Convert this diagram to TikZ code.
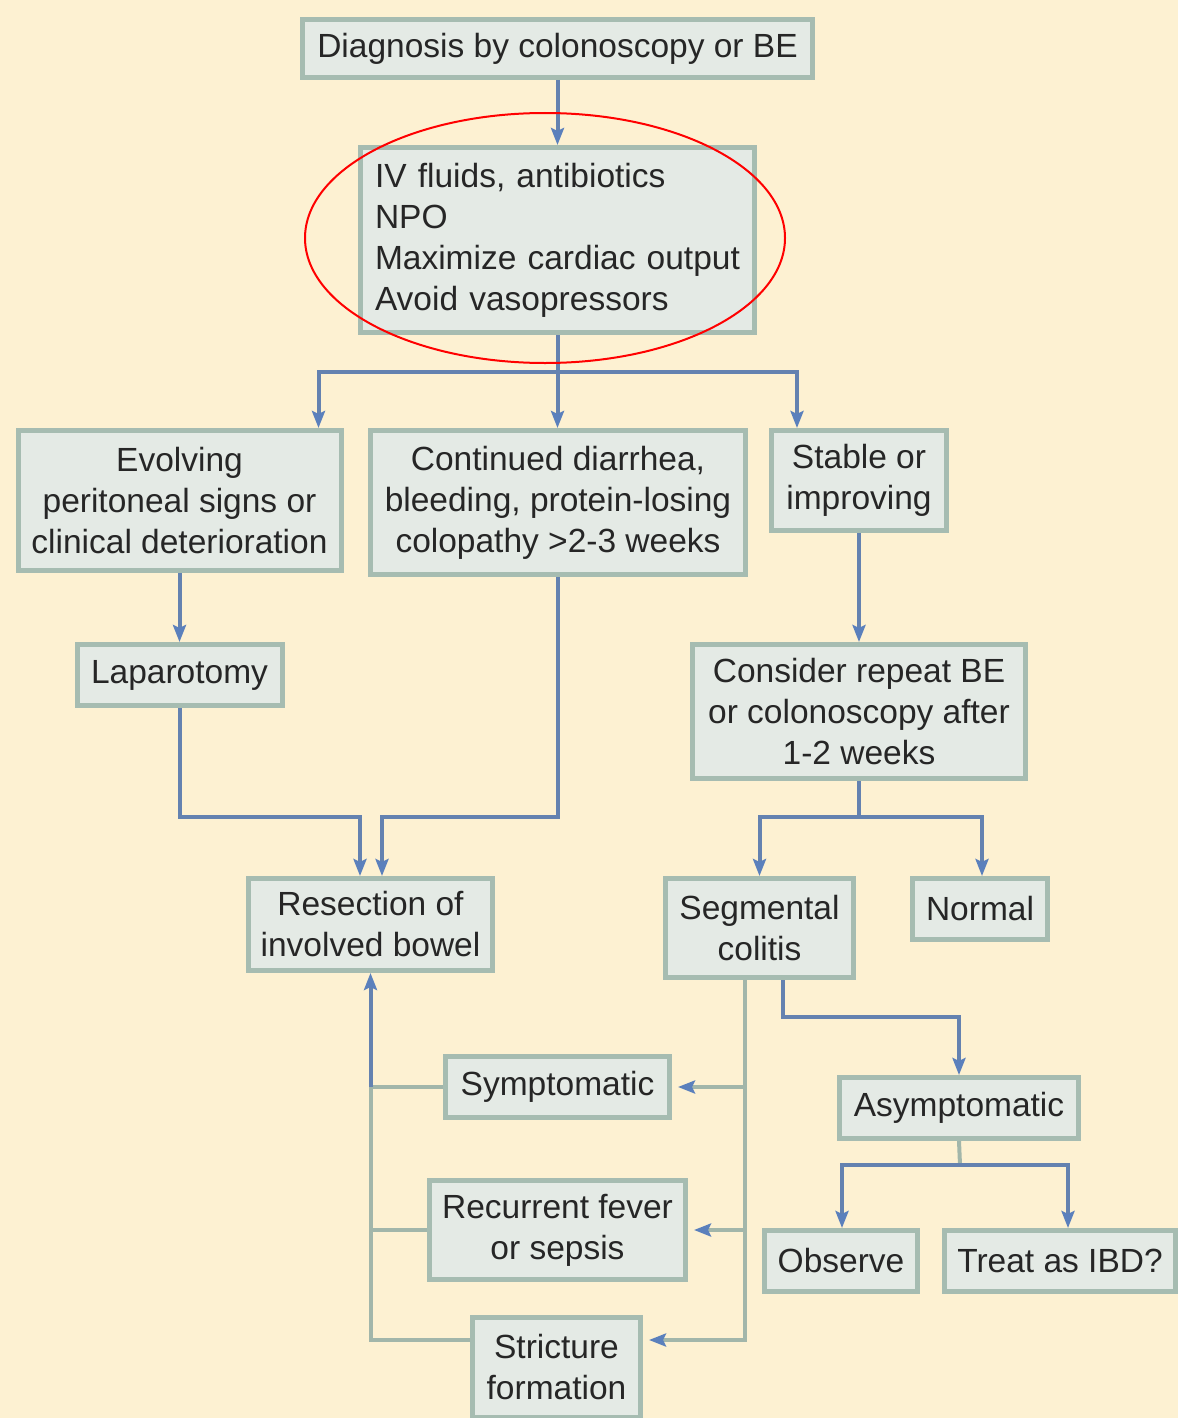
\documentclass[tikz,border=0pt]{standalone}
\usepackage{fontspec}
\setmainfont{Liberation Sans}
\usetikzlibrary{arrows.meta}
\definecolor{bgc}{HTML}{FDF1D2}
\definecolor{boxfill}{HTML}{E4EAE5}
\definecolor{boxline}{HTML}{A6BCB1}
\definecolor{lineblue}{HTML}{6482B0}
\definecolor{tipblue}{HTML}{5B80BC}
\definecolor{linegray}{HTML}{A2B6AA}
\definecolor{txt}{HTML}{262626}
\begin{document}
\begin{tikzpicture}[x=1pt,y=-1pt,
  box/.style={draw=boxline, fill=boxfill, line width=5pt, text=txt,
    font=\fontsize{33.5}{41}\selectfont, align=center, inner sep=0pt},
  arr/.style={draw=lineblue, line width=4pt, -{Stealth[length=17pt,width=13pt,inset=3pt,color=tipblue]}},
  ln/.style={draw=lineblue, line width=4pt},
  gl/.style={draw=linegray, line width=4pt},
  garr/.style={draw=linegray, line width=4pt, shorten >=6pt, -{Stealth[length=17pt,width=13pt,inset=3pt,color=tipblue]}}
]
\fill[bgc] (0,0) rectangle (1178,1418);
\useasboundingbox (0,0) rectangle (1178,1418);

% nodes
\node[box, minimum width=510, minimum height=58] (diag) at (557.5,48.5) {Diagnosis by colonoscopy or BE};
\node[box, minimum width=394, minimum height=185, align=left, text width=365, inner xsep=14.5pt] (iv) at (557.5,240)
  {IV fluids, antibiotics\\NPO\\Maximize cardiac output\\Avoid vasopressors};
\node[box, minimum width=323, minimum height=140] (evol) at (179.5,500.5) {Evolving\\peritoneal signs or\\clinical deterioration};
\node[box, minimum width=375, minimum height=144] (cont) at (558,502.5) {Continued diarrhea,\\bleeding, protein-losing\\colopathy >2-3 weeks};
\node[box, minimum width=175, minimum height=100] (stable) at (859,480.5) {Stable or\\improving};
\node[box, minimum width=205, minimum height=61] (lap) at (179.5,675) {Laparotomy};
\node[box, minimum width=333, minimum height=134] (cons) at (859,711.5) {Consider repeat BE\\or colonoscopy after\\1-2 weeks};
\node[box, minimum width=244, minimum height=92] (res) at (370.5,924.5) {Resection of\\involved bowel};
\node[box, minimum width=188, minimum height=99] (seg) at (759.5,928) {Segmental\\colitis};
\node[box, minimum width=135, minimum height=61] (norm) at (980,909) {Normal};
\node[box, minimum width=224, minimum height=61] (sym) at (557.5,1087) {Symptomatic};
\node[box, minimum width=239, minimum height=61] (asym) at (959,1108) {Asymptomatic};
\node[box, minimum width=256, minimum height=99] (rec) at (557.5,1230) {Recurrent fever\\or sepsis};
\node[box, minimum width=153, minimum height=61] (obs) at (841,1261) {Observe};
\node[box, minimum width=231, minimum height=61] (treat) at (1060,1261) {Treat as IBD?};
\node[box, minimum width=168, minimum height=100] (str) at (556.5,1367) {Stricture\\formation};

% connectors
\draw[arr] (diag) -- (iv);
\coordinate (j1) at (557.5,372);
\draw[ln] (iv.south) -- (j1);
\draw[arr] (j1) -| ([xshift=139]evol.north);
\draw[arr] (j1) -- (j1 |- cont.north);
\draw[arr] (j1) -| ([xshift=-62]stable.north);
\draw[arr] (evol) -- (lap);
\draw[arr] (stable) -- (cons);
\coordinate (r1) at (360,817);
\coordinate (r2) at (382,817);
\draw[arr] (lap.south) |- (r1) -- (r1 |- res.north);
\draw[arr] (cont.south) |- (r2) -- (r2 |- res.north);
\coordinate (j3) at (859,817);
\draw[ln] (cons.south) -- (j3);
\draw[arr] (j3) -| (seg.north);
\draw[arr] (j3) -| ([xshift=2]norm.north);
\coordinate (s1) at (783,1017);
\draw[arr] (s1 |- seg.south) -- (s1) -| (asym.north);
\coordinate (t) at (745,1340);
\draw[garr] (seg.south -| t) -- (t) -- (t -| str.east);
\draw[garr] (sym.east -| t) -- (sym.east);
\draw[garr] (rec.east -| t) -- (rec.east);
\coordinate (j4) at (960,1165);
\draw[gl] (asym.south) -- (j4);
\draw[arr] (j4) -| ([xshift=1]obs.north);
\draw[arr] (j4) -| ([xshift=8]treat.north);
\coordinate (f) at (370.5,1340);
\draw[gl] (str.west |- f) -- (f) -- (f |- sym.west);
\draw[gl] (sym.west) -- (sym.west -| f);
\draw[gl] (rec.west) -- (rec.west -| f);
\draw[arr] (f |- sym.west) -- (res.south);

% highlight ellipse
\draw[red, line width=2pt] (545,238) ellipse [x radius=240, y radius=125];
\end{tikzpicture}
\end{document}
